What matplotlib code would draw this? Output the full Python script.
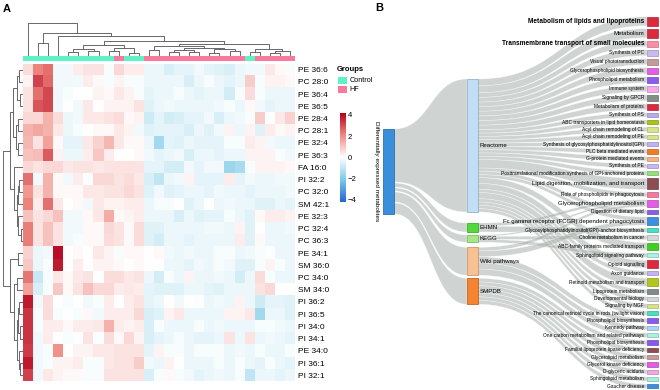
import numpy as np
import matplotlib
matplotlib.use("Agg")
import matplotlib.pyplot as plt
from matplotlib.colors import LinearSegmentedColormap, ListedColormap, to_rgb
from matplotlib.path import Path
from matplotlib.patches import PathPatch, Rectangle

plt.rcParams['font.family'] = ['Liberation Sans', 'DejaVu Sans']

# ---------------- data: panel A ----------------
metabolites = ['PE 36:6', 'PC 28:0', 'PE 36:4', 'PE 36:5', 'PE 28:4', 'PC 28:1', 'PE 32:4',
               'PE 36:3', 'FA 16:0', 'PI 32:2', 'PC 32:0', 'SM 42:1', 'PE 32:3', 'PC 32:4',
               'PC 36:3', 'PE 34:1', 'SM 36:0', 'PC 34:0', 'SM 34:0', 'PI 36:2', 'PI 36:5',
               'PI 34:0', 'PI 34:1', 'PE 34:0', 'PI 36:1', 'PI 32:1']
group_names = ['Control', 'HF']
col_groups = [0] * 9 + [1] + [0] * 2 + [1] * 10 + [0] + [1] * 4

heat_values = [
    [0.6, 2.2, 2.5, -0.2, -0.2, 0.3, 0.5, 0.5, -0.1, 0.7, 0.3, 0.3, -0.3, -0.3, -0.6, -0.4, -0.4, -0.2, -0.4, -0.5, -0.6, -0.3, -0.2, -0.2, 0.4, 0.1, -0.1],
    [0.2, 3.2, 2.6, -0.2, -0.2, -0.2, 0.3, 0.1, -0.1, 0.2, -0.1, -0.1, -0.3, -0.3, -0.3, -0.3, -0.6, -0.3, -0.1, -0.3, -0.4, -0.3, 0.9, -0.1, 0.2, 0.2, 0.1],
    [0.5, 2.5, 3.1, -0.2, -0.1, 0.0, 0.0, 0.2, 0.1, 0.4, 0.2, -0.1, -0.4, -0.3, -0.3, -0.1, -0.3, -0.4, -0.3, -0.3, -0.7, -0.1, 0.6, -0.1, -0.3, -0.3, -0.3],
    [0.5, 2.9, 3.1, -0.2, 0.0, -0.2, 0.4, 0.0, 0.2, 0.2, 0.2, 0.5, -0.5, -0.3, -0.2, -0.3, -0.3, -0.3, -0.3, -0.2, -0.1, -0.3, 0.1, -0.2, -0.4, -0.3, -0.3],
    [0.7, 0.7, 1.4, 0.6, -0.3, -0.2, 0.4, 0.4, 0.5, 0.6, 0.1, 0.2, -0.8, -0.4, -0.7, -0.6, -0.4, -0.4, -0.2, -0.6, -0.3, -0.2, -0.1, 0.9, 0.0, 0.4, 0.8],
    [1.4, 1.6, 1.4, 0.4, -0.3, -0.1, 0.0, 0.1, 0.1, 0.4, 0.2, -0.2, -0.5, -0.4, -0.4, -0.4, -0.6, -0.3, -0.5, -0.2, 0.2, -0.3, 0.2, -0.5, 0.3, 0.1, 0.2],
    [1.3, 0.5, 1.7, 0.1, -0.4, -0.4, 0.4, 0.8, 1.3, 0.4, 0.1, 0.1, -0.3, -1.5, -0.4, -0.5, -0.3, -0.4, -0.4, -0.4, -0.1, -0.1, 0.3, 0.2, -0.2, -0.3, -0.3],
    [1.1, 1.2, 2.8, 0.2, -0.3, -0.3, 0.3, 1.0, 0.3, 0.0, 0.0, 0.1, -0.2, -0.4, -0.3, -0.2, -0.6, -0.3, -0.3, -0.4, -0.3, -0.3, 0.2, 0.2, 0.2, -0.1, -0.2],
    [0.7, 0.5, 0.7, 0.7, 0.4, 0.5, 0.5, 0.4, 0.5, 0.5, 0.5, 0.5, -0.4, -0.4, -0.7, -0.7, -0.2, -0.4, -0.2, -0.2, -1.6, -1.4, -0.1, 0.2, 0.2, 0.2, 0.1],
    [2.5, -0.2, 1.4, 0.1, -0.2, 0.3, -0.05, 0.7, 0.7, 0.5, 0.6, 0.4, -0.6, -1.0, -0.3, -0.2, 0.2, -0.4, -0.4, -0.4, 0.3, -0.4, -0.2, -0.3, -0.3, -0.2, -0.2],
    [1.9, 0.5, 1.4, 0.1, 0.1, 0.1, 0.4, 0.4, 0.5, 0.5, 0.7, 0.5, -0.5, -0.2, -0.5, -0.4, -0.3, -0.3, -0.4, -0.2, -0.3, -0.3, -0.4, -0.3, -0.3, -0.3, -0.2],
    [2.2, 0.3, 2.5, 0.4, 0.0, 0.1, -0.2, 0.4, 0.2, 0.2, 0.3, 0.3, -0.3, -0.1, -0.1, 0.0, -0.5, -0.3, 0.0, -0.3, -0.2, -0.3, -0.3, -0.5, -0.5, -0.3, -0.4],
    [1.1, 0.5, 0.7, 1.1, -0.2, -0.2, 0.1, 0.4, 1.5, 0.1, 0.2, 0.3, -0.3, -0.3, -0.3, -0.6, -0.3, -0.5, -0.4, -0.4, -0.1, -0.3, -0.5, 0.1, 0.3, 0.3, 0.2],
    [2.3, 0.5, 1.1, 0.5, -0.2, -0.2, 0.1, 0.1, 0.7, 0.5, 0.1, 0.6, -0.5, -0.5, -0.3, -0.3, -0.3, -0.3, -0.2, -0.2, -0.3, 0.2, -0.5, 0.0, -0.3, -0.3, -0.2],
    [2.3, 0.5, 1.1, 0.5, -0.2, -0.1, 0.1, 0.1, 0.6, 0.5, 0.1, 0.6, -0.5, -0.7, -0.3, -0.3, -0.4, -0.3, -0.3, -0.3, -0.3, 0.3, -0.5, 0.1, -0.3, -0.3, -0.3],
    [0.8, -0.3, -0.2, 4.0, 0.0, 0.1, 0.0, 0.4, 0.2, -0.1, 0.1, 0.1, 0.0, 0.1, -0.2, -0.3, -0.2, -0.3, -0.3, -0.1, -0.1, -0.3, -0.2, -0.1, -0.05, -0.3, -0.3],
    [1.0, -0.3, -0.1, 3.8, 0.0, 0.3, 0.0, 0.2, 0.2, 0.1, 0.0, 0.1, 0.0, 0.0, -0.3, -0.3, -0.4, -0.2, -0.3, -0.1, -0.2, -0.5, -0.5, -0.1, 0.2, -0.1, -0.3],
    [2.4, -0.9, -0.1, 0.4, 0.1, 0.4, 0.5, 0.0, 0.6, 0.6, 0.4, 0.5, -0.3, -0.7, -0.1, -0.3, 0.2, -0.3, -0.3, -0.2, -0.3, -0.7, -0.3, 0.6, -0.1, -0.3, -0.3],
    [1.7, -0.6, -0.1, 1.0, 0.1, 0.5, 1.1, 0.7, 0.7, 0.3, 0.4, 0.3, -0.4, -0.5, -0.5, -0.5, -0.3, -0.3, -0.4, -0.5, -0.3, -0.3, -0.3, 0.5, 0.7, 0.0, 0.0],
    [3.8, -0.2, 0.6, 0.0, -0.1, 0.0, -0.2, -0.1, 0.3, 0.0, 0.3, 0.5, -0.4, -0.3, 0.0, -0.2, 0.0, -0.05, -0.3, -0.2, -0.3, 0.2, -0.3, -0.8, -0.4, -0.4, -0.5],
    [3.4, -0.1, 0.6, -0.1, 0.0, -0.1, 0.1, -0.2, 0.3, 0.3, 0.3, 0.7, -0.6, -0.5, 0.2, 0.4, -0.3, -0.3, -0.3, -0.3, 0.2, 0.2, 0.4, -1.5, -0.3, -0.3, -0.5],
    [3.4, -0.1, 0.3, 0.3, 0.1, 0.3, 0.3, 0.4, 1.4, 0.3, 0.2, 0.3, -0.6, -0.1, -0.3, -0.3, -0.3, -0.1, -0.3, -0.2, -0.3, -0.3, -0.3, -0.1, -0.1, -0.2, -0.3],
    [3.4, -0.2, 0.3, 0.0, -0.1, -0.05, 0.5, -0.05, 0.6, 0.1, 0.7, 0.2, -0.6, -0.4, -0.3, -0.1, -0.3, -0.4, -0.4, -0.3, 0.5, -0.3, 0.5, -0.3, -0.2, -0.3, -0.4],
    [3.3, -0.2, -0.1, 2.0, 0.0, 0.2, 0.2, 0.4, 0.4, 0.5, 0.5, 0.5, -0.4, 0.2, -0.1, -0.1, -0.3, -0.1, -0.1, -0.1, -0.3, -0.2, -0.3, -0.1, -0.3, -0.3, -0.1],
    [3.8, -0.2, -0.1, 0.2, 0.2, 0.3, -0.1, -0.1, 0.4, 0.5, 0.5, 0.9, -0.2, -0.3, 0.2, 0.0, -0.3, -0.3, -0.3, -0.1, -0.3, -0.1, -0.3, -0.4, -0.1, -0.3, -0.4],
    [3.2, -0.2, 0.4, 0.2, 0.1, 0.1, -0.1, -0.1, 0.5, 0.5, 0.5, 0.5, -0.6, -0.1, 0.1, -0.1, -0.2, -0.4, -0.3, -0.2, -0.3, -0.1, -1.0, -0.3, -0.3, -0.4, -0.3],
]

# dendrogram merges (left id, right id, height); new clusters get ids n_leaves + k
col_merges = [
    (1, 2, 37), (4, 5, 12), (6, 7, 14), (28, 29, 20), (8, 9, 13), (10, 11, 8),
    (31, 32, 22), (30, 33, 30), (12, 13, 18), (14, 15, 10), (16, 17, 12), (36, 37, 16),
    (18, 19, 9), (20, 21, 13), (39, 40, 19), (38, 41, 23), (35, 42, 28), (24, 25, 8),
    (44, 26, 13), (22, 23, 12), (46, 45, 20), (43, 47, 33), (34, 48, 43), (3, 49, 57),
    (27, 50, 68), (0, 51, 95),
]
row_merges = [
    (0, 1, 3.5), (2, 3, 2.5), (26, 27, 5), (4, 5, 4), (6, 7, 4.5), (29, 30, 6),
    (28, 31, 9), (9, 10, 3), (33, 11, 4), (13, 14, 1.5), (12, 35, 4), (34, 36, 5.5),
    (8, 37, 7.5), (32, 38, 11), (15, 16, 4), (17, 18, 5), (19, 20, 3), (21, 22, 2.5),
    (42, 43, 4), (24, 25, 2.5), (23, 45, 3.5), (44, 46, 5), (41, 47, 8), (40, 48, 11),
    (39, 49, 17),
]

# ---------------- data: panel B ----------------
source_name = 'Differentially expressed metabolites'
db_nodes = ['Reactome', 'EHMN', 'KEGG', 'Wiki pathways', 'SMPDB']
db_sizes = [133, 9, 7.3, 28, 26]
db_inflow = [53, 4, 3, 10, 11]

pathways = [
    'Metabolism of lipids and lipoproteins', 'Metabolism', 'Transmembrane transport of small molecules',
    'Synthesis of PC', 'Visual phototransduction', 'Glycerophospholipid biosynthesis',
    'Phospholipid metabolism', 'Immune system', 'Signaling by GPCR', 'Metabolism of proteins',
    'Synthesis of PS', 'ABC transporters in lipid homeostasis', 'Acyl chain remodeling of CL',
    'Acyl chain remodeling of PE', 'Synthesis of glycosylphosphatidylinositol(GPI)',
    'PLC beta mediated events', 'G-protein mediated events', 'Synthesis of PE',
    'Posttranslational modification:synthesis of GPI-anchored proteins',
    'Lipid digestion, mobilization, and transport', 'Role of phospholipids in phagocytosis',
    'Glycerophospholipid metabolism', 'Digestion of dietary lipid',
    'Fc gamma receptor (FCGR) dependent phagocytosis',
    'Glycosylphosphatidylinositol(GPI)-anchor biosynthesis', 'Choline metabolism in cancer',
    'ABC-family proteins mediated transport', 'Sphingolipid signaling pathway', 'Opioid signalling',
    'Axon guidance', 'Retinoid metabolism and transport', 'Lipoprotein metabolism',
    'Developmental biology', 'Signaling by NGF',
    'The canonical retinoid cycle in rods (twilight vision)', 'Phospholipid biosynthesis',
    'Kennedy pathway', 'One carbon metabolism and related pathways', 'Phospholipid biosynthesis',
    'Familial lipoprotein lipase deficiency', 'Glycerolipid metabolism', 'Glycerol kinase deficiency',
    'D-glyceric aciduria', 'Sphingolipid metabolism', 'Gaucher disease',
]
pathway_sizes = [9, 9, 6, 6, 6, 6, 6, 6, 6, 6,
                 4.3, 4.3, 4.3, 4.3, 4.3, 4.3, 4.3, 4.3, 4.3, 11,
                 4.3, 7, 4.3, 8, 4.3, 4.3, 7.5, 4.3, 7.5, 4.3,
                 8, 4.3, 4.3, 4.3, 4.3, 4.3, 4.3, 4.3, 4.3, 4.3,
                 4.3, 4.3, 4.3, 4.3, 4.3]
# links: (database index, pathway index, weight)
links = ([(0, i, pathway_sizes[i]) for i in list(range(0, 21)) + [22]]
         + [(0, 23, 4)]
         + [(0, i, pathway_sizes[i]) for i in [26, 28, 29, 30, 31, 32, 33, 34]]
         + [(1, 21, 2.5), (1, 24, 4.3),
            (2, 21, 2.0), (2, 25, 4.3), (2, 27, 4.3),
            (3, 21, 2.5), (3, 23, 4), (3, 35, 4.3), (3, 36, 4.3), (3, 37, 4.3)]
         + [(4, i, pathway_sizes[i]) for i in range(38, 45)])

# ---------------- styles ----------------
group_colors = ['#5ff2c6', '#f7799b']
db_colors = ['#bddcf6', '#45d62c', '#9ee77b', '#f9bb88', '#f47a20']
source_color = '#3a8fdc'
pathway_colors = ['#dc2a3c', '#dc2a3c', '#f98fa6', '#c9b8f2', '#c49b9d', '#e45ee4', '#8b5cf0',
                  '#f5a9ec', '#858d8b', '#dc2a3c', '#bba9f0', '#a8c41a', '#d6e58c', '#d6e58c',
                  '#c2b0f2', '#f57a22', '#f6b184', '#c6b6f4', '#94e07c', '#8e4d4f', '#f47ba0',
                  '#e25de6', '#8a5bec', '#3d8de0', '#45e0c0', '#d4d8d8', '#3fcf22', '#a6f2e2',
                  '#dc2a3c', '#c6b2f2', '#b2c61e', '#838b8a', '#d3d7d7', '#d6e28a', '#46e0bc',
                  '#8a5af0', '#a9d4f4', '#a8f0e2', '#8a5af0', '#8e4d4f', '#c49b9d', '#e25de6',
                  '#f5a6e8', '#a6eee0', '#3d8de0']
label_style = ['b', 'm', 'b'] + ['s'] * 16 + ['m', 's', 'm', 's', 'm'] + ['s'] * 21

W, H = 660, 390
fig = plt.figure(figsize=(W / 100, H / 100), dpi=100)


def px_axes(x0, y0, x1, y1):
    return fig.add_axes([x0 / W, 1 - y1 / H, (x1 - x0) / W, (y1 - y0) / H])


def darker(c, f=0.78):
    r, g, b = to_rgb(c)
    return (r * f, g * f, b * f)


# ---------------- heatmap ----------------
cmap = LinearSegmentedColormap.from_list('hm', ['#2566d6', '#7ccbe6', '#ffffff', '#f08c84', '#b3001b'])
VLIM = 4.2
data = np.array(heat_values, dtype=float)
axh = px_axes(23, 63.5, 295, 381.5)
axh.imshow(data, cmap=cmap, vmin=-VLIM, vmax=VLIM, aspect='auto', interpolation='nearest')
axh.set_xticks([])
axh.set_yticks(range(len(metabolites)))
axh.set_yticklabels(metabolites, fontsize=6)
axh.yaxis.tick_right()
axh.tick_params(axis='y', length=0, pad=2.5)
for s in axh.spines.values():
    s.set_visible(False)

# annotation bar
axa = px_axes(23, 55.7, 295, 61.3)
axa.imshow(np.array([col_groups]), cmap=ListedColormap(group_colors), vmin=0, vmax=1,
           aspect='auto', interpolation='nearest')
axa.axis('off')


def draw_dendro(ax, n, merges, orient):
    pos = {i: float(i) for i in range(n)}
    hgt = {i: 0.0 for i in range(n)}
    for k, (a, b, h) in enumerate(merges):
        xa, xb, ha, hb = pos[a], pos[b], hgt[a], hgt[b]
        if orient == 'top':
            ax.plot([xa, xa, xb, xb], [ha, h, h, hb], color='#505050', lw=0.6, solid_capstyle='butt')
        else:
            ax.plot([ha, h, h, hb], [xa, xa, xb, xb], color='#505050', lw=0.6, solid_capstyle='butt')
        pos[n + k] = (xa + xb) / 2
        hgt[n + k] = h


axcd = px_axes(23, 22, 295, 55.7)
draw_dendro(axcd, len(col_groups), col_merges, 'top')
axcd.set_xlim(-0.5, len(col_groups) - 0.5)
axcd.set_ylim(0, 99)
axcd.axis('off')

axrd = px_axes(2, 63.5, 23, 381.5)
draw_dendro(axrd, len(metabolites), row_merges, 'left')
axrd.set_ylim(len(metabolites) - 0.5, -0.5)
axrd.set_xlim(18, 0)
axrd.axis('off')

# colorbar
axc = px_axes(340, 112.7, 345.3, 201.7)
axc.imshow(np.linspace(VLIM, -VLIM, 256)[:, None], cmap=cmap, vmin=-VLIM, vmax=VLIM,
           aspect='auto', extent=[0, 1, -VLIM, VLIM])
axc.set_xticks([])
axc.set_yticks([-4, -2, 0, 2, 4])
axc.yaxis.tick_right()
axc.tick_params(axis='y', length=0, pad=2, labelsize=5.5)
for s in axc.spines.values():
    s.set_visible(False)

# ---------------- overlay (panel B + legends + letters) ----------------
ax = fig.add_axes([0, 0, 1, 1])
ax.set_xlim(0, W)
ax.set_ylim(H, 0)
ax.axis('off')

ax.text(3, 9, 'A', fontsize=8, fontweight='bold', va='center', ha='left')
ax.text(375, 8, 'B', fontsize=8, fontweight='bold', va='center', ha='left')

ax.text(337, 69.5, 'Groups', fontsize=5.5, fontweight='bold', va='center', ha='left')
for i, (g, c) in enumerate(zip(group_names, group_colors)):
    y = 77 + i * 9
    ax.add_patch(Rectangle((338, y), 9, 7, facecolor=c, edgecolor='none'))
    ax.text(349.5, y + 3.6, g, fontsize=5.2, va='center', ha='left')

# sankey geometry
X_SRC = (383, 394)
X_DB = (467, 478)
X_PW = (647, 658)
SRC_TOP, SRC_BOT = 129, 214
DB_TOP = 79
DB_GAPS = [11, 3, 5, 3]
PW_TOP, PW_BOT = 16.7, 388.4
FLOW = dict(facecolor='#a8b2ad', alpha=0.55, edgecolor='white', lw=0.35)


def band(x0, s0, s1, x1, t0, t1, **kw):
    xm = (x0 + x1) / 2
    verts = [(x0, s0), (xm, s0), (xm, t0), (x1, t0), (x1, t1), (xm, t1), (xm, s1), (x0, s1), (x0, s0)]
    codes = [Path.MOVETO, Path.CURVE4, Path.CURVE4, Path.CURVE4, Path.LINETO,
             Path.CURVE4, Path.CURVE4, Path.CURVE4, Path.CLOSEPOLY]
    ax.add_patch(PathPatch(Path(verts, codes), **kw))


# database node positions
db_top = [DB_TOP]
for i in range(1, len(db_sizes)):
    db_top.append(db_top[-1] + db_sizes[i - 1] + DB_GAPS[i - 1])

# pathway node positions
n_pw = len(pathway_sizes)
pw_gap = (PW_BOT - PW_TOP - sum(pathway_sizes)) / (n_pw - 1)
pw_top = []
y = PW_TOP
for s in pathway_sizes:
    pw_top.append(y)
    y += s + pw_gap

# source -> database flows
src_gap = (SRC_BOT - SRC_TOP - sum(db_inflow)) / (len(db_inflow) - 1)
y = SRC_TOP
for i, w in enumerate(db_inflow):
    band(X_SRC[1], y, y + w, X_DB[0], db_top[i], db_top[i] + db_sizes[i], **FLOW)
    y += w + src_gap

# database -> pathway flows
out_pos = {}
for d in range(len(db_nodes)):
    ls = sorted([l for l in links if l[0] == d], key=lambda l: l[1])
    tot = sum(l[2] for l in ls)
    y = db_top[d]
    for l in ls:
        h = l[2] * db_sizes[d] / tot
        out_pos[(l[0], l[1])] = (y, y + h)
        y += h
in_pos = {}
for p in range(n_pw):
    ls = sorted([l for l in links if l[1] == p], key=lambda l: l[0])
    tot = sum(l[2] for l in ls)
    y = pw_top[p]
    for l in ls:
        h = l[2] * pathway_sizes[p] / tot
        in_pos[(l[0], l[1])] = (y, y + h)
        y += h
for l in links:
    s0, s1 = out_pos[(l[0], l[1])]
    t0, t1 = in_pos[(l[0], l[1])]
    band(X_DB[1], s0, s1, X_PW[0], t0, t1, **FLOW)

# nodes
ax.add_patch(Rectangle((X_SRC[0], SRC_TOP), X_SRC[1] - X_SRC[0], SRC_BOT - SRC_TOP,
                       facecolor=source_color, edgecolor=darker(source_color), lw=0.6))
ax.text(376, (SRC_TOP + SRC_BOT) / 2, source_name, rotation=270, fontsize=4.6,
        va='center', ha='center')
for i, name in enumerate(db_nodes):
    ax.add_patch(Rectangle((X_DB[0], db_top[i]), X_DB[1] - X_DB[0], db_sizes[i],
                           facecolor=db_colors[i], edgecolor=darker(db_colors[i]), lw=0.6, alpha=0.92))
    ax.text(X_DB[1] + 2, db_top[i] + db_sizes[i] / 2, name, fontsize=4.4, va='center', ha='left')

size_map = {'b': 4.7, 'm': 4.3, 's': 3.5}
for i, name in enumerate(pathways):
    ax.add_patch(Rectangle((X_PW[0], pw_top[i]), X_PW[1] - X_PW[0], pathway_sizes[i],
                           facecolor=pathway_colors[i], edgecolor=darker(pathway_colors[i]), lw=0.5))
    st = label_style[i]
    ax.text(X_PW[0] - 3, pw_top[i] + pathway_sizes[i] / 2, name, fontsize=size_map[st],
            fontweight='bold' if st == 'b' else 'normal', va='center', ha='right')

fig.savefig('out.png', dpi=100)
